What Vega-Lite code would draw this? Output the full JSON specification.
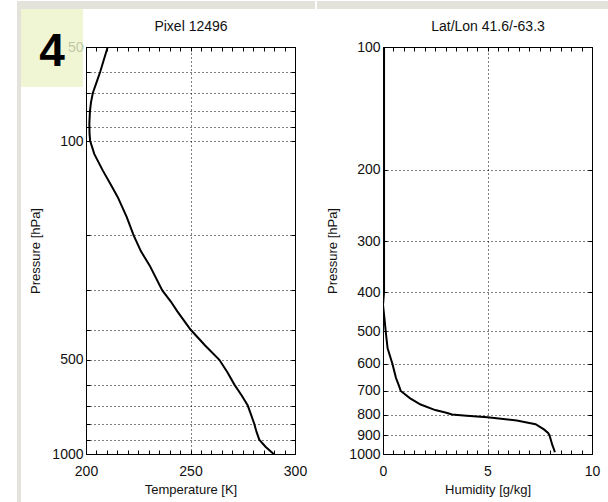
{
  "$schema": "https://vega.github.io/schema/vega-lite/v6.json",
  "background": "white",
  "padding": {"left": 16, "top": 0, "right": 0, "bottom": 0},
  "spacing": 0,
  "datasets": {
    "temp": [
      {"p": 50, "T": 210.4}, {"p": 55, "T": 208.5}, {"p": 60, "T": 206.8}, {"p": 65, "T": 205.0},
      {"p": 70, "T": 203.3}, {"p": 75, "T": 202.4}, {"p": 80, "T": 201.9}, {"p": 88, "T": 201.6},
      {"p": 95, "T": 201.7}, {"p": 100, "T": 202.0}, {"p": 110, "T": 204.0}, {"p": 124, "T": 208.0},
      {"p": 140, "T": 212.5}, {"p": 151, "T": 215.2}, {"p": 175, "T": 219.5}, {"p": 200, "T": 222.8},
      {"p": 225, "T": 226.3}, {"p": 250, "T": 230.5}, {"p": 300, "T": 236.5}, {"p": 325, "T": 240.5},
      {"p": 350, "T": 243.7}, {"p": 400, "T": 250.0}, {"p": 450, "T": 257.0}, {"p": 500, "T": 263.8},
      {"p": 550, "T": 267.8}, {"p": 600, "T": 271.0}, {"p": 650, "T": 274.5}, {"p": 700, "T": 277.4},
      {"p": 750, "T": 279.0}, {"p": 800, "T": 280.5}, {"p": 850, "T": 281.6}, {"p": 900, "T": 282.9},
      {"p": 950, "T": 286.0}, {"p": 1000, "T": 289.8}
    ],
    "hum": [
      {"p": 100, "q": 0.05}, {"p": 200, "q": 0.05}, {"p": 300, "q": 0.05}, {"p": 400, "q": 0.05},
      {"p": 430, "q": 0.0}, {"p": 470, "q": 0.08}, {"p": 500, "q": 0.13}, {"p": 550, "q": 0.22},
      {"p": 600, "q": 0.45}, {"p": 650, "q": 0.62}, {"p": 681, "q": 0.77}, {"p": 700, "q": 0.85},
      {"p": 730, "q": 1.3}, {"p": 756, "q": 1.8}, {"p": 780, "q": 2.5}, {"p": 792, "q": 3.03},
      {"p": 800, "q": 3.3}, {"p": 805, "q": 4.0}, {"p": 812, "q": 5.0}, {"p": 827, "q": 6.4},
      {"p": 845, "q": 7.3}, {"p": 870, "q": 7.7}, {"p": 888, "q": 7.9}, {"p": 900, "q": 7.97},
      {"p": 950, "q": 8.1}, {"p": 980, "q": 8.2}, {"p": 990, "q": 8.22}
    ],
    "badge": [{"label": "4"}]
  },
  "hconcat": [
    {
      "width": 209,
      "height": 407,
      "layer": [
        {
          "data": {"name": "temp"},
          "mark": {"type": "line", "color": "black", "strokeWidth": 2, "clip": true},
          "encoding": {
            "x": {
              "field": "T", "type": "quantitative",
              "scale": {"domain": [200, 300], "nice": false, "zero": false},
              "axis": {
                "orient": "bottom", "title": "Temperature [K]",
                "values": [200,205,210,215,220,225,230,235,240,245,250,255,260,265,270,275,280,285,290,295,300],
                "labelExpr": "datum.value % 50 === 0 ? format(datum.value, 'd') : ''",
                "labelPadding": 14, "titlePadding": 5,
                "gridOpacity": {"condition": {"test": "datum.value === 250", "value": 1}, "value": 0}
              }
            },
            "y": {
              "field": "p", "type": "quantitative",
              "scale": {"type": "log", "domain": [50, 1000], "nice": false, "reverse": true},
              "axis": {
                "orient": "left", "title": "Pressure [hPa]",
                "values": [50,60,70,80,90,100,200,300,400,500,600,700,800,900,1000],
                "labelExpr": "indexof([50,100,500,1000], datum.value) >= 0 ? format(datum.value, 'd') : ''",
                "labelPadding": 7
              }
            },
            "order": {"field": "p", "type": "quantitative"}
          }
        },
        {
          "data": {"name": "temp"},
          "mark": {"type": "point", "opacity": 0},
          "encoding": {
            "x": {
              "field": "T", "type": "quantitative",
              "axis": {
                "orient": "top", "title": "Pixel 12496", "titleFontSize": 14, "titlePadding": 13,
                "labels": false, "grid": false,
                "values": [200,205,210,215,220,225,230,235,240,245,250,255,260,265,270,275,280,285,290,295,300]
              }
            },
            "y": {
              "field": "p", "type": "quantitative",
              "axis": {
                "orient": "right", "title": null, "labels": false, "grid": false,
                "values": [50,60,70,80,90,100,200,300,400,500,600,700,800,900,1000]
              }
            }
          }
        },
        {
          "data": {"name": "badge"},
          "mark": {"type": "rect", "color": "#e3e3db", "clip": false},
          "encoding": {
            "x": {"datum": 166.99, "type": "quantitative", "axis": null},
            "x2": {"datum": 168.9},
            "y": {"datum": 35.64, "type": "quantitative", "axis": null},
            "y2": {"datum": 1435}
          }
        },
        {
          "data": {"name": "badge"},
          "mark": {"type": "rect", "color": "#e3e3db", "clip": false},
          "encoding": {
            "x": {"datum": 166.99, "type": "quantitative", "axis": null},
            "x2": {"datum": 309.57},
            "y": {"datum": 35.64, "type": "quantitative", "axis": null},
            "y2": {"datum": 37.78}
          }
        },
        {
          "data": {"name": "badge"},
          "mark": {"type": "rect", "color": "#ecf3c8", "opacity": 0.8, "clip": false},
          "encoding": {
            "x": {"datum": 168.9, "type": "quantitative", "axis": null},
            "x2": {"datum": 198.6},
            "y": {"datum": 37.8, "type": "quantitative", "axis": null},
            "y2": {"datum": 67.1}
          }
        },
        {
          "data": {"name": "badge"},
          "mark": {"type": "text", "font": "Liberation Sans", "fontSize": 46, "fontWeight": "bold", "color": "black", "align": "center", "baseline": "alphabetic", "clip": false},
          "encoding": {
            "text": {"field": "label"},
            "x": {"datum": 183.7, "type": "quantitative", "axis": null},
            "y": {"datum": 57.5, "type": "quantitative", "axis": null}
          }
        }
      ]
    },
    {
      "width": 209,
      "height": 407,
      "layer": [
        {
          "data": {"name": "hum"},
          "mark": {"type": "line", "color": "black", "strokeWidth": 2, "clip": true},
          "encoding": {
            "x": {
              "field": "q", "type": "quantitative",
              "scale": {"domain": [0, 10], "nice": false},
              "axis": {
                "orient": "bottom", "title": "Humidity [g/kg]",
                "values": [0,0.5,1,1.5,2,2.5,3,3.5,4,4.5,5,5.5,6,6.5,7,7.5,8,8.5,9,9.5,10],
                "labelExpr": "datum.value % 5 === 0 ? format(datum.value, 'd') : ''",
                "labelPadding": 14, "titlePadding": 5,
                "gridOpacity": {"condition": {"test": "datum.value === 5", "value": 1}, "value": 0}
              }
            },
            "y": {
              "field": "p", "type": "quantitative",
              "scale": {"type": "log", "domain": [100, 1000], "nice": false, "reverse": true},
              "axis": {
                "orient": "left", "title": "Pressure [hPa]",
                "values": [100,200,300,400,500,600,700,800,900,1000],
                "labelExpr": "format(datum.value, 'd')",
                "labelPadding": 7
              }
            },
            "order": {"field": "p", "type": "quantitative"}
          }
        },
        {
          "data": {"name": "hum"},
          "mark": {"type": "point", "opacity": 0},
          "encoding": {
            "x": {
              "field": "q", "type": "quantitative",
              "axis": {
                "orient": "top", "title": "Lat/Lon 41.6/-63.3", "titleFontSize": 14, "titlePadding": 13,
                "labels": false, "grid": false,
                "values": [0,0.5,1,1.5,2,2.5,3,3.5,4,4.5,5,5.5,6,6.5,7,7.5,8,8.5,9,9.5,10]
              }
            },
            "y": {
              "field": "p", "type": "quantitative",
              "axis": {
                "orient": "right", "title": null, "labels": false, "grid": false,
                "values": [100,200,300,400,500,600,700,800,900,1000]
              }
            }
          }
        },
        {
          "data": {"name": "badge"},
          "mark": {"type": "rect", "color": "#e3e3db", "clip": false},
          "encoding": {
            "x": {"datum": -3.16, "type": "quantitative", "axis": null},
            "x2": {"datum": 10.909},
            "y": {"datum": 77.08, "type": "quantitative", "axis": null},
            "y2": {"datum": 80.65}
          }
        }
      ]
    }
  ],
  "config": {
    "font": "Liberation Sans",
    "view": {"stroke": "black", "strokeWidth": 1},
    "axis": {
      "domain": false,
      "labelFont": "Liberation Sans",
      "labelFontSize": 14,
      "labelColor": "#111",
      "labelFlush": false,
      "labelOverlap": false,
      "titleFont": "Liberation Sans",
      "titleFontSize": 13,
      "titleFontWeight": "normal",
      "titleColor": "#111",
      "titlePadding": 9,
      "tickColor": "black",
      "tickSize": -4,
      "grid": true,
      "gridColor": "black",
      "gridDash": [1, 3],
      "gridWidth": 1
    }
  }
}
